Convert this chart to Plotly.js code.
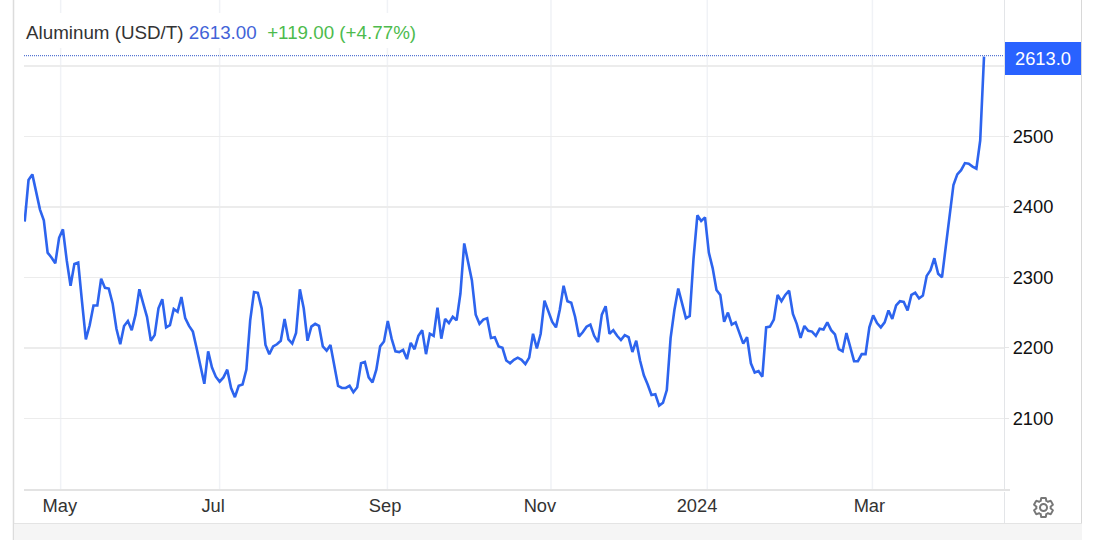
<!DOCTYPE html>
<html>
<head>
<meta charset="utf-8">
<script src="https://cdn.plot.ly/plotly-3.0.1.min.js"></script>
<style>html,body{margin:0;padding:0;background:#fff;overflow:hidden}#chart{width:1094px;height:540px}</style>
</head>
<body>
<div id="chart"></div>
<script>
// Daily closes, one per trading session
const prices = [
2379,2438,2446,2419,2396,2381,2335,2328,2320,2356,2368,2324,2288,2319,2321,2265,2212,2232,2260,2260,
2298,2285,2284,2263,2227,2205,2231,2238,2225,2247,2283,2263,2244,2210,2218,2256,2269,2229,2232,2255,
2251,2272,2242,2231,2223,2199,2173,2149,2195,2172,2159,2152,2158,2169,2143,2130,2146,2148,2169,2239,
2279,2278,2256,2204,2191,2202,2205,2210,2241,2212,2206,2221,2283,2256,2210,2230,2234,2231,2202,2196,
2204,2173,2146,2143,2143,2146,2137,2144,2178,2180,2158,2151,2169,2202,2209,2238,2213,2195,2194,2197,
2184,2207,2198,2217,2225,2191,2220,2217,2257,2213,2241,2235,2244,2239,2277,2348,2322,2296,2247,2234,
2240,2242,2214,2215,2202,2200,2182,2178,2183,2186,2183,2177,2186,2220,2199,2220,2267,2252,2237,2229,
2254,2288,2266,2264,2244,2216,2222,2230,2233,2217,2208,2247,2259,2220,2225,2217,2211,2218,2215,2194,
2210,2182,2161,2148,2133,2134,2118,2122,2140,2214,2254,2284,2263,2242,2245,2327,2388,2380,2385,2335,
2313,2282,2275,2237,2250,2233,2236,2221,2206,2215,2178,2165,2167,2159,2229,2230,2240,2275,2266,2275,
2281,2248,2234,2214,2231,2224,2223,2217,2227,2226,2236,2225,2219,2198,2195,2221,2199,2181,2181,2191,
2191,2229,2246,2235,2229,2236,2253,2241,2260,2266,2265,2253,2275,2278,2270,2274,2302,2310,2327,2305,
2300,2341,2386,2431,2446,2452,2462,2461,2457,2454,2494,2613
];
const sessions = prices.map((_, i) => i);
const monthLabels = ['May', 'Jul', 'Sep', 'Nov', '2024', 'Mar'];
const monthLabelAt = [9.2, 49.3, 94.3, 134.8, 175.9, 221.0];
const monthGridAt = [9.4, 51.0, 94.9, 137.7, 178.6, 221.8];
const priceTicks = [2100, 2200, 2300, 2400, 2500, 2600];
const priceTickLabels = ['2100', '2200', '2300', '2400', '2500', ''];
const seriesName = 'Aluminum (USD/T)';
const lastText = '2613.00';
const changeText = '+119.00 (+4.77%)';
const lastTag = '2613.0';

const W = 1094, H = 540, L = 24, R = 1004, B = 490;
const px = x => (x - L) / (R - L);
const py = y => (B - y) / B;
const last = prices[prices.length - 1];
const blue = '#2962ff', soft = '#e3e5e8';

const line = (x0, y0, x1, y1, color, width) => ({
  type: 'line', xref: 'paper', yref: 'paper', x0: px(x0), x1: px(x1), y0: py(y0), y1: py(y1),
  line: {color, width}, layer: 'above'
});

const shapes = [];
monthGridAt.forEach(v => shapes.push({type: 'line', xref: 'x', yref: 'paper', x0: v, x1: v, y0: 0, y1: 1,
  line: {color: '#f0f2f6', width: 1.5}, layer: 'below'}));
// white strip behind the heading
shapes.push({type: 'rect', xref: 'paper', yref: 'paper', x0: px(24), x1: px(430), y0: py(48), y1: py(13),
  fillcolor: '#fff', line: {width: 0}, layer: 'below'});
shapes.push({type: 'line', xref: 'paper', yref: 'paper', x0: 0, x1: 1, y0: py(55.7), y1: py(55.7),
  line: {color: '#2f55c8', width: 1, dash: '1px,1px'}, layer: 'below'});
shapes.push(line(24, 490, 1010, 490, '#e3e3e3', 2));
shapes.push(line(1004.5, 0, 1004.5, 489, soft, 1));
shapes.push(line(1004.5, 492, 1004.5, 523, soft, 1));
shapes.push(line(13.5, 0, 13.5, 540, '#dcdcdc', 1.5));
shapes.push(line(1081.5, 0, 1081.5, 523, '#d8d8d8', 1));
shapes.push({type: 'rect', xref: 'paper', yref: 'paper', x0: px(14), x1: px(1082), y0: py(540), y1: py(523.5),
  fillcolor: '#f5f5f5', line: {width: 0}, layer: 'above'});
shapes.push(line(14, 523.5, 1082, 523.5, '#e4e4e4', 1));

const gear = "M19.14 12.94c.04-.3.06-.61.06-.94 0-.32-.02-.64-.07-.94l2.03-1.58c.18-.14.23-.41.12-.61l-1.92-3.32c-.12-.22-.37-.29-.59-.22l-2.39.96c-.5-.38-1.03-.7-1.62-.94l-.36-2.54c-.04-.24-.24-.41-.48-.41h-3.84c-.24 0-.43.17-.47.41l-.36 2.54c-.59.24-1.13.57-1.62.94l-2.39-.96c-.22-.08-.47 0-.59.22L2.74 8.87c-.12.21-.08.47.12.61l2.03 1.58c-.05.3-.09.63-.09.94s.02.64.07.94l-2.03 1.58c-.18.14-.23.41-.12.61l1.92 3.32c.12.22.37.29.59.22l2.39-.96c.5.38 1.03.7 1.62.94l.36 2.54c.05.24.24.41.48.41h3.84c.24 0 .44-.17.47-.41l.36-2.54c.59-.24 1.13-.56 1.62-.94l2.39.96c.22.08.47 0 .59-.22l1.92-3.32c.12-.22.07-.47-.12-.61l-2.01-1.58z";
const gearSvg = `<svg xmlns="http://www.w3.org/2000/svg" width="24" height="24" viewBox="0 0 24 24"><path d="${gear}" fill="none" stroke="#777" stroke-width="2"/><circle cx="12" cy="12" r="3.5" fill="none" stroke="#777" stroke-width="2"/></svg>`;

Plotly.newPlot('chart', [{
  type: 'scatter', mode: 'lines', x: sessions, y: prices, name: seriesName,
  line: {color: '#2d64ee', width: 2.6, shape: 'linear'}, cliponaxis: false, hoverinfo: 'skip'
}], {
  width: W, height: H,
  margin: {l: L, r: W - R, t: 0, b: H - B, pad: 0},
  paper_bgcolor: '#fff', plot_bgcolor: '#fff',
  showlegend: false,
  font: {family: 'Arial, "Liberation Sans", sans-serif', size: 18.3, color: '#333'},
  title: {
    text: `<span style="color:#333">${seriesName}</span>\u00a0<span style="color:#4263d8">${lastText}</span>\u00a0\u00a0<span style="color:#4dbb4d">${changeText}</span>`,
    x: 26 / W, xref: 'container', xanchor: 'left', y: 1 - 32 / H, yref: 'container', yanchor: 'middle',
    font: {size: 18.8, family: 'Arial, "Liberation Sans", sans-serif'}
  },
  xaxis: {
    type: 'linear', range: [(L - 24.7) / 3.822, (R - 24.7) / 3.822], fixedrange: true,
    tickmode: 'array', tickvals: monthLabelAt, ticktext: monthLabels, ticks: '', showgrid: false,
    zeroline: false, showline: false, ticklabelstandoff: 3, tickfont: {size: 18.3, color: '#333'}
  },
  yaxis: {
    type: 'linear', side: 'right', range: [2100 - (B - 418.3) / 0.705, 2100 + 418.3 / 0.705], fixedrange: true,
    tickmode: 'array', tickvals: priceTicks, ticktext: priceTickLabels,
    showgrid: true, gridcolor: '#ececec', gridwidth: 1.5, zeroline: false, showline: false,
    ticks: 'outside', ticklen: 4, tickcolor: '#e6e6e6', tickwidth: 1,
    tickfont: {size: 18.3, color: '#111'}
  },
  shapes,
  annotations: [{
    xref: 'paper', yref: 'y', x: 1, y: last, xanchor: 'left', yanchor: 'middle', xshift: 0.5, yshift: -1.5,
    text: lastTag, showarrow: false, width: 76, height: 33, align: 'center', valign: 'middle',
    bgcolor: blue, borderpad: 0, borderwidth: 0, font: {color: '#fff', size: 18.3}
  }],
  images: [{
    source: 'data:image/svg+xml;utf8,' + encodeURIComponent(gearSvg),
    xref: 'paper', yref: 'paper', x: px(1031.5), y: py(495.5), sizex: 24 / (R - L), sizey: 24 / B,
    xanchor: 'left', yanchor: 'top', layer: 'above'
  }]
}, {displayModeBar: false, staticPlot: true});
</script>
</body>
</html>
